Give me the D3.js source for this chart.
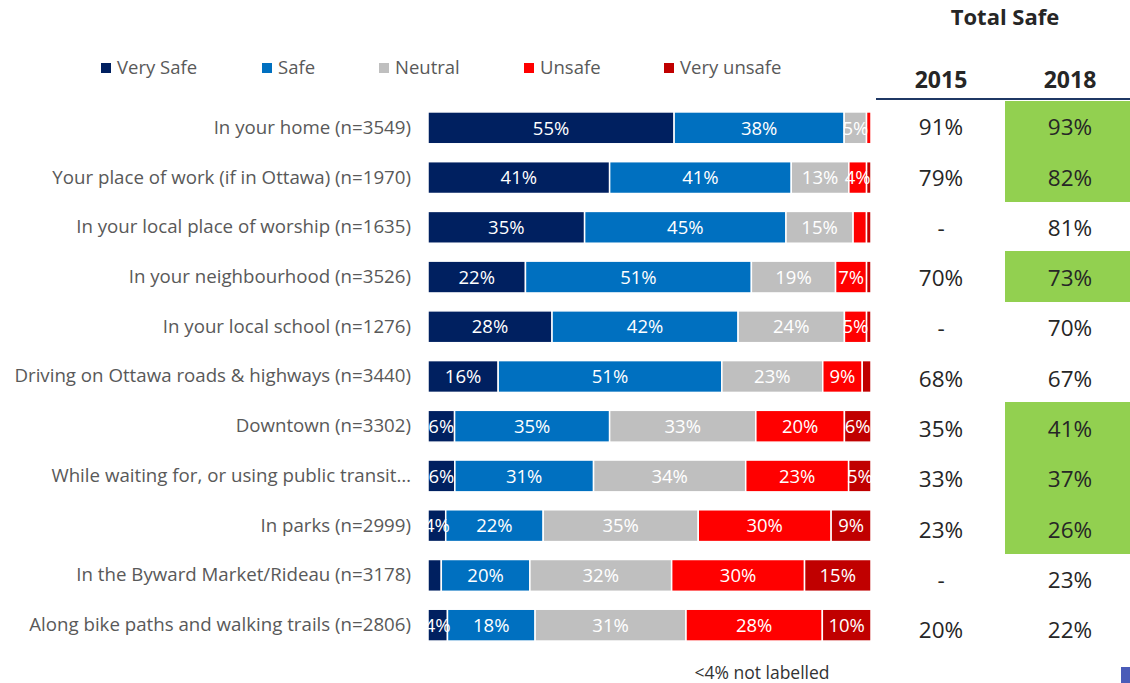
<!DOCTYPE html>
<html>
<head>
<meta charset="utf-8">
<script src="https://cdn.jsdelivr.net/npm/d3@7"></script>
<style>
  html, body { margin: 0; padding: 0; background: #fff; }
  svg { display: block; font-family: "Open Sans", "DejaVu Sans", sans-serif; }
</style>
</head>
<body>
<svg id="chart" width="1130" height="683"></svg>
<script>
// Perceived safety by location (% of respondents)
const categories = [
  "In your home (n=3549)",
  "Your place of work (if in Ottawa) (n=1970)",
  "In your local place of worship (n=1635)",
  "In your neighbourhood (n=3526)",
  "In your local school (n=1276)",
  "Driving on Ottawa roads & highways (n=3440)",
  "Downtown (n=3302)",
  "While waiting for, or using public transit…",
  "In parks (n=2999)",
  "In the Byward Market/Rideau (n=3178)",
  "Along bike paths and walking trails (n=2806)"
];
const seriesNames = ["Very Safe", "Safe", "Neutral", "Unsafe", "Very unsafe"];
const verySafe   = [55, 41, 35, 22, 28, 16,  6,  6,  4,  3,  4];
const safe       = [38, 41, 45, 51, 42, 51, 35, 31, 22, 20, 18];
const neutral    = [ 5, 13, 15, 19, 24, 23, 33, 34, 35, 32, 31];
const unsafe     = [ 1,  4,  3,  7,  5,  9, 20, 23, 30, 30, 28];
const veryUnsafe = [ 0,  1,  1,  1,  1,  2,  6,  5,  9, 15, 10];

// "Total Safe" comparison table
const yearLabels = ["2015", "2018"];
const totalSafe2015 = [91, 79, null, 70, null, 68, 35, 33, 23, null, 20];
const totalSafe2018 = [93, 82, 81, 73, 70, 67, 41, 37, 26, 23, 22];
const improved2018  = [true, true, false, true, false, false, true, true, true, false, false];

const labelThreshold = 4;
const footnote = "<4% not labelled";

const colors = ["#002060", "#0070C0", "#BFBFBF", "#FF0000", "#C00000"];

const svg = d3.select("#chart");

// Build rows and a 100% stacked layout (each row normalised to its own total)
const seriesValues = [verySafe, safe, neutral, unsafe, veryUnsafe];
const keys = seriesNames;
const rows = categories.map((c, i) => {
  const r = { category: c };
  const total = d3.sum(seriesValues, s => s[i]);
  keys.forEach((k, j) => { r[k] = seriesValues[j][i] / total; r[k + "_raw"] = seriesValues[j][i]; });
  return r;
});
const stacked = d3.stack().keys(keys)(rows);

const x = d3.scaleLinear().domain([0, 1]).range([428, 871]);
const y = d3.scaleBand().domain(categories).range([103, 650]).paddingInner(0.36).paddingOuter(0.18);
const color = d3.scaleOrdinal().domain(keys).range(colors);

// Stacked bars
const layers = svg.append("g").selectAll("g")
  .data(stacked).join("g")
  .attr("fill", d => color(d.key));

layers.selectAll("rect")
  .data(d => d.map(p => Object.assign(p, { key: d.key })))
  .join("rect")
  .attr("x", d => x(d[0]))
  .attr("y", d => y(d.data.category))
  .attr("width", d => Math.max(0, x(d[1]) - x(d[0])))
  .attr("height", y.bandwidth())
  .attr("stroke", "#fff")
  .attr("stroke-width", 1.5);

// Segment value labels
const labelG = svg.append("g");
stacked.forEach(layer => {
  layer.forEach(p => {
    const raw = p.data[layer.key + "_raw"];
    if (raw < labelThreshold) return;
    labelG.append("text")
      .attr("x", (x(p[0]) + x(p[1])) / 2)
      .attr("y", y(p.data.category) + y.bandwidth() / 2)
      .attr("dy", "0.36em")
      .attr("text-anchor", "middle")
      .attr("fill", "#fff")
      .style("font-size", "18.5px")
      .text(raw + "%");
  });
});

// Category axis labels
const yAxis = d3.axisLeft(y).tickSize(0).tickPadding(0);
const axisG = svg.append("g").attr("transform", "translate(411,0)").call(yAxis);
axisG.select(".domain").remove();
axisG.selectAll("text")
  .attr("fill", "#595959")
  .style("font-size", "18.7px")
  .style("font-family", "'Open Sans', sans-serif");

// Legend
const legendX = [101, 262, 379, 524, 664];
const legend = svg.append("g").selectAll("g")
  .data(keys).join("g")
  .attr("transform", (d, i) => `translate(${legendX[i]},68)`);
legend.append("rect")
  .attr("x", 0).attr("y", -5).attr("width", 10).attr("height", 10)
  .attr("fill", d => color(d));
legend.append("text")
  .attr("x", 16).attr("dy", "0.35em")
  .attr("fill", "#595959")
  .style("font-size", "18.5px")
  .text(d => d);

// Table: Total Safe by year
const colX = d3.scalePoint().domain(yearLabels).range([941, 1070]);
const rowY = d3.scaleBand().domain(categories).range([100, 100 + 50.3 * categories.length]);

svg.append("text")
  .attr("x", 1005).attr("y", 17).attr("dy", "0.35em")
  .attr("text-anchor", "middle")
  .attr("fill", "#262626")
  .style("font-size", "22px").style("font-weight", "bold")
  .text("Total Safe");

svg.append("g").selectAll("text")
  .data(yearLabels).join("text")
  .attr("x", d => colX(d)).attr("y", 80).attr("dy", "0.35em")
  .attr("text-anchor", "middle")
  .attr("fill", "#262626")
  .style("font-size", "23px").style("font-weight", "bold")
  .text(d => d);

svg.append("line")
  .attr("x1", 876).attr("x2", 1130).attr("y1", 99).attr("y2", 99)
  .attr("stroke", "#1F3864").attr("stroke-width", 2.2);

// Highlighted 2018 cells
svg.append("g").selectAll("rect")
  .data(categories.filter((c, i) => improved2018[i])).join("rect")
  .attr("x", 1005).attr("width", 125)
  .attr("y", d => rowY(d) + 0.5)
  .attr("height", rowY.bandwidth() + 0.6)
  .attr("fill", "#92D050")
  .attr("shape-rendering", "crispEdges");

const tableCols = [totalSafe2015, totalSafe2018];
yearLabels.forEach((yr, j) => {
  svg.append("g").selectAll("text")
    .data(categories).join("text")
    .attr("x", colX(yr))
    .attr("y", d => rowY(d) + rowY.bandwidth() / 2 + 2)
    .attr("dy", "0.36em")
    .attr("text-anchor", "middle")
    .attr("fill", "#262626")
    .style("font-size", "22.5px")
    .text((d, i) => tableCols[j][i] == null ? "-" : tableCols[j][i] + "%");
});

// Footnote
svg.append("text")
  .attr("x", 762).attr("y", 673).attr("dy", "0.35em")
  .attr("text-anchor", "middle")
  .attr("fill", "#333")
  .style("font-size", "17.5px")
  .text(footnote);

// Corner marker
svg.append("rect")
  .attr("x", 1121).attr("y", 667).attr("width", 9).attr("height", 16)
  .attr("fill", "#4A5BB8");
</script>
</body>
</html>
